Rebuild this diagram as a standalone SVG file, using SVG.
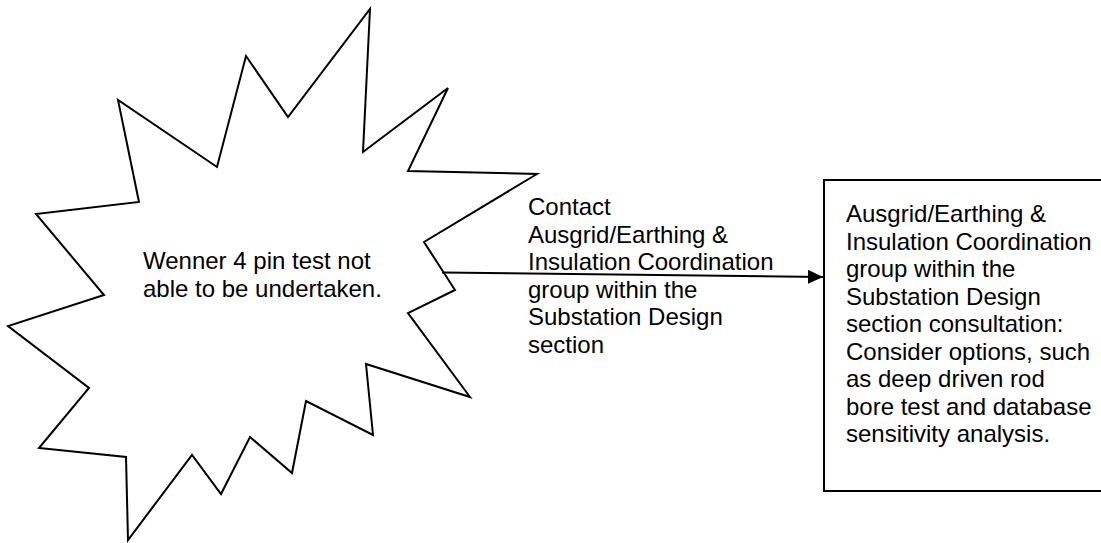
<svg xmlns="http://www.w3.org/2000/svg" width="1101" height="543" viewBox="0 0 1101 543">
<style>
.t{font-family:"Liberation Sans",Arial,sans-serif;font-size:24px;fill:#000}
.s{fill:#fff;stroke:#000;stroke-width:2;stroke-linejoin:miter}
.c{stroke:#000;stroke-width:2;fill:none}
</style>
<defs>
<marker id="ah" markerUnits="userSpaceOnUse" markerWidth="16" markerHeight="14" refX="15" refY="7" orient="auto">
<path d="M0,0 L15,7 L0,14 Z" fill="#000"/>
</marker>
</defs>
<rect width="1101" height="543" fill="#fff"/>
<g id="burst">
<polygon class="s" points="370,9 363,152 448,88 408,171 537,174 424,242 455,290 408,313 470,397 366,364 373,435 306,401 292,473 250,437 221,494 192,455 128,540 126,457 39,448 89,388 8,326 104,295 36,214 139,202 118,100 217,167 246,56 288,117"/>
<text class="t"><tspan x="143" y="269">Wenner 4 pin test not</tspan><tspan x="143" y="296.5">able to be undertaken.</tspan></text>
</g>
<g id="box">
<rect class="s" x="824" y="180" width="300" height="311"/>
<text class="t"><tspan x="846" y="222">Ausgrid/Earthing &amp;</tspan><tspan x="846" y="249.5">Insulation Coordination</tspan><tspan x="846" y="277">group within the</tspan><tspan x="846" y="304.5">Substation Design</tspan><tspan x="846" y="332">section consultation:</tspan><tspan x="846" y="359.5">Consider options, such</tspan><tspan x="846" y="387">as deep driven rod</tspan><tspan x="846" y="414.5">bore test and database</tspan><tspan x="846" y="442">sensitivity analysis.</tspan></text>
</g>
<g id="connectors">
<line class="c" x1="442" y1="272.5" x2="823" y2="277" marker-end="url(#ah)"/>
<text class="t"><tspan x="528" y="215">Contact</tspan><tspan x="528" y="242.5">Ausgrid/Earthing &amp;</tspan><tspan x="528" y="270">Insulation Coordination</tspan><tspan x="528" y="297.5">group within the</tspan><tspan x="528" y="325">Substation Design</tspan><tspan x="528" y="352.5">section</tspan></text>
</g>
</svg>
